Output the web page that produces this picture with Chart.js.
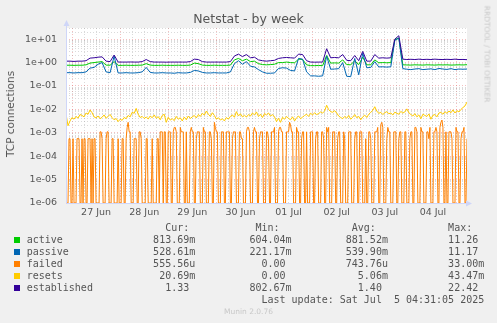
<!DOCTYPE html>
<html>
<head>
<meta charset="utf-8">
<title>Netstat - by week</title>
<script src="https://cdn.jsdelivr.net/npm/chart.js@4.4.1/dist/chart.umd.min.js"></script>
<style>
  html, body { margin: 0; padding: 0; background: #f0f0f0; }
  #wrap { position: relative; width: 497px; height: 323px; overflow: hidden; font-family: "DejaVu Sans", sans-serif; color: #555; }
  canvas { position: absolute; left: 0; top: 0; }
  .title { position: absolute; left: 0; width: 497px; top: 12px; text-align: center; font-size: 12.5px; line-height: 14px; }
  .ytitle { position: absolute; left: 10px; top: 114px; font-size: 10.5px; line-height: 12px; white-space: nowrap; transform: translate(-50%, -50%) rotate(-90deg); }
  .side { position: absolute; left: 487px; top: 54px; font-size: 7.5px; line-height: 9px; color: #c8c8c8; white-space: nowrap; transform: translate(-50%, -50%) rotate(90deg); }
  .legend { position: absolute; left: 26.7px; top: 221.7px; margin: 0; font-family: "DejaVu Sans Mono", monospace; font-size: 10px; line-height: 12px; white-space: pre; color: #555; }
  .sw { position: absolute; left: 14px; width: 6px; height: 6px; }
  .ver { position: absolute; left: 0; width: 497px; top: 307px; text-align: center; font-size: 7.5px; line-height: 10px; color: #c8c8c8; }
</style>
</head>
<body>
<div id="wrap">
  <canvas id="netstat" width="497" height="323"></canvas>
  <div class="title">Netstat - by week</div>
  <div class="ytitle">TCP connections</div>
  <div class="side">RRDTOOL / TOBI OETIKER</div>
  <pre class="legend" id="legend"></pre>
  <div class="ver">Munin 2.0.76</div>
</div>
<script>
// hours are counted from 27 Jun 00:00
const dayLabels = ['27 Jun', '28 Jun', '29 Jun', '30 Jun', '01 Jul', '02 Jul', '03 Jul', '04 Jul'];
const yTickLabels = ['1e-06', '1e-05', '1e-04', '1e-03', '1e-02', '1e-01', '1e+00', '1e+01'];

// 2-hour samples, first one at -3h
const active = [
  0.77, 0.77, 0.76, 0.77, 0.77, 0.8, 0.95, 1.0, 1.05, 1.1,
  0.78, 0.77, 1.1, 0.76, 0.76, 0.77, 0.76, 0.76, 0.77, 0.78,
  0.9, 0.78, 0.76, 0.76, 0.77, 0.76, 0.76, 0.76, 0.77, 0.76,
  0.76, 0.78, 0.95, 0.9, 0.78, 0.76, 0.76, 0.77, 0.76, 0.76,
  0.76, 0.78, 1.3, 1.5, 1.2, 1.4, 1.1, 1.15, 0.9, 0.82,
  0.8, 0.82, 0.85, 1.0, 1.0, 1.05, 1.0, 0.98, 1.4, 1.35,
  0.8, 0.74, 0.74, 0.75, 0.74, 2.0, 0.95, 0.97, 0.95, 1.3,
  0.82, 0.8, 1.2, 0.82, 1.7, 0.8, 0.8, 1.3, 0.98, 1.0,
  0.98, 1.0, 9.5, 11.2, 0.8, 0.79, 0.78, 0.8, 0.79, 0.78,
  0.8, 0.79, 0.78, 0.8, 0.79, 0.8, 0.78, 0.79, 0.8, 0.79, 0.81
];
const passive = [
  0.37, 0.37, 0.36, 0.37, 0.37, 0.4, 0.58, 0.62, 0.85, 1.0,
  0.4, 0.37, 1.9, 0.36, 0.36, 0.37, 0.36, 0.36, 0.37, 0.4,
  0.62, 0.38, 0.36, 0.36, 0.37, 0.36, 0.36, 0.35, 0.37, 0.36,
  0.36, 0.38, 0.46, 0.44, 0.38, 0.36, 0.36, 0.37, 0.36, 0.36,
  0.36, 0.4, 0.9, 1.2, 0.85, 1.1, 0.7, 0.65, 0.5, 0.4,
  0.35, 0.35, 0.36, 0.56, 0.6, 0.58, 0.46, 0.44, 1.5, 1.4,
  0.4, 0.27, 0.27, 0.26, 0.27, 1.9, 0.52, 0.53, 0.55, 1.0,
  0.26, 0.25, 1.5, 0.3, 2.5, 0.6, 0.62, 1.1, 0.65, 0.66,
  0.64, 0.66, 9.0, 11.0, 0.55, 0.52, 0.5, 0.53, 0.55, 0.5,
  0.52, 0.54, 0.5, 0.56, 0.53, 0.51, 0.55, 0.5, 0.53, 0.52, 0.53
];
const established = [
  1.15, 1.15, 1.12, 1.15, 1.15, 1.2, 1.55, 1.6, 1.7, 1.75,
  1.15, 1.1, 2.1, 1.05, 1.05, 1.05, 1.06, 1.05, 1.05, 1.1,
  1.35, 1.1, 1.05, 1.05, 1.05, 1.04, 1.05, 1.05, 1.05, 1.05,
  1.05, 1.1, 1.4, 1.35, 1.1, 1.05, 1.05, 1.05, 1.05, 1.05,
  1.05, 1.1, 1.9, 2.3, 1.8, 2.2, 1.6, 1.7, 1.3, 1.2,
  1.15, 1.2, 1.25, 1.5, 1.6, 1.65, 1.6, 1.55, 2.3, 2.2,
  1.2, 1.05, 1.04, 1.05, 1.05, 3.9, 1.6, 1.65, 1.6, 2.2,
  1.25, 1.2, 2.0, 1.2, 3.0, 1.15, 1.15, 2.2, 1.55, 1.6,
  1.55, 1.6, 10, 14, 1.4, 1.35, 1.38, 1.35, 1.4, 1.35,
  1.38, 1.35, 1.4, 1.36, 1.35, 1.38, 1.35, 1.4, 1.35, 1.36, 1.33
];

// half-hour samples, first one at -3h (0 = no failures, drawn on the floor)
const failed = [
  0, 0, 0, 5.6e-4, 5.6e-4, 0, 0, 5.6e-4, 0, 0, 0, 5.6e-4, 5.6e-4, 5.6e-4, 0, 0, 5.6e-4, 0, 5.6e-4, 5.6e-4,
  0, 0, 5.6e-4, 5.6e-4, 5.6e-4, 0, 5.6e-4, 0, 5.6e-4, 5.6e-4, 0, 0, 0, 0, 1.1e-3, 1.1e-3, 5.6e-4, 0, 0, 0,
  5.6e-4, 1.1e-3, 1.1e-3, 0, 0, 0, 5.6e-4, 5.6e-4, 0, 0, 0, 0, 5.6e-4, 0, 0, 0, 5.6e-4, 5.6e-4, 0, 0,
  5.6e-4, 1.7e-3, 2.8e-3, 1.1e-3, 1.1e-3, 0, 0, 0, 5.6e-4, 5.6e-4, 5.6e-4, 0, 0, 1.1e-3, 1.1e-3, 5.6e-4, 0, 0, 0, 0,
  5.6e-4, 5.6e-4, 0, 0, 0, 0, 5.6e-4, 0, 0, 0, 0, 5.6e-4, 5.6e-4, 0, 1.1e-3, 1.1e-3, 1.1e-3, 0, 1.1e-3, 1.1e-3,
  0, 0, 1.1e-3, 1.1e-3, 1.1e-3, 0, 0, 1.1e-3, 1.7e-3, 1.7e-3, 1.1e-3, 0, 0, 0, 1.7e-3, 1.1e-3, 1.1e-3, 1.1e-3, 0, 0,
  1.1e-3, 0, 0, 0, 1.1e-3, 1.7e-3, 1.1e-3, 1.1e-3, 0, 0, 5.6e-4, 1.1e-3, 1.1e-3, 1.1e-3, 0, 0, 0, 1.7e-3, 1.1e-3, 1.1e-3,
  0, 0, 0, 1.1e-3, 1.1e-3, 5.6e-4, 0, 0, 2.8e-3, 1.7e-3, 1.1e-3, 1.1e-3, 0, 0, 0, 1.1e-3, 1.1e-3, 1.1e-3, 0, 0,
  1.1e-3, 1.1e-3, 1.1e-3, 1.1e-3, 0, 0, 5.6e-4, 1.1e-3, 1.1e-3, 1.1e-3, 0, 0, 0, 1.1e-3, 1.1e-3, 5.6e-4, 5.6e-4, 0, 0, 0,
  1.1e-3, 1.7e-3, 1.7e-3, 1.1e-3, 0, 0, 0, 1.1e-3, 1.7e-3, 1.1e-3, 1.1e-3, 0, 0, 5.6e-4, 1.1e-3, 1.1e-3, 1.1e-3, 0, 0, 0,
  1.1e-3, 1.1e-3, 5.6e-4, 0, 0, 1.1e-3, 1.1e-3, 1.1e-3, 1.7e-3, 0, 0, 0, 1.1e-3, 1.7e-3, 1.7e-3, 1.1e-3, 1.1e-3, 0, 0, 0,
  1.1e-3, 1.1e-3, 1.1e-3, 2.8e-3, 2.2e-3, 1.1e-3, 1.1e-3, 0, 0, 0, 1.7e-3, 1.1e-3, 1.1e-3, 0, 0, 5.6e-4, 1.1e-3, 1.1e-3, 0, 0,
  1.1e-3, 0, 0, 0, 1.1e-3, 1.1e-3, 1.1e-3, 0, 0, 5.6e-4, 1.1e-3, 1.1e-3, 0, 0, 0, 1.1e-3, 1.1e-3, 5.6e-4, 0, 0,
  1.7e-3, 1.1e-3, 1.7e-3, 0, 0, 0, 1.1e-3, 1.1e-3, 1.1e-3, 0, 0, 5.6e-4, 1.1e-3, 1.1e-3, 0, 0, 0, 1.1e-3, 5.6e-4, 0,
  0, 0, 1.1e-3, 1.1e-3, 1.1e-3, 0, 0, 0, 5.6e-4, 1.1e-3, 1.1e-3, 0, 0, 1.1e-3, 1.1e-3, 1.1e-3, 0, 0, 0, 5.6e-4,
  0, 0, 1.1e-3, 1.1e-3, 5.6e-4, 0, 0, 0, 1.1e-3, 1.1e-3, 1.1e-3, 1.7e-3, 0, 0, 2.2e-3, 2.8e-3, 1.7e-3, 0, 0, 0,
  5.6e-4, 1.7e-3, 1.1e-3, 1.1e-3, 0, 0, 0, 1.1e-3, 1.1e-3, 1.1e-3, 0, 0, 5.6e-4, 1.1e-3, 1.1e-3, 0, 0, 0, 1.1e-3, 1.1e-3,
  0, 0, 0, 5.6e-4, 1.1e-3, 1.1e-3, 0, 0, 1.7e-3, 1.7e-3, 1.1e-3, 0, 0, 0, 1.7e-3, 1.1e-3, 1.1e-3, 0, 0, 0,
  1.1e-3, 1.1e-3, 5.6e-4, 1.7e-3, 0, 0, 0, 1.1e-3, 1.1e-3, 1.7e-3, 1.1e-3, 0, 0, 1.7e-3, 2.8e-3, 3.5e-3, 1.7e-3, 0, 0, 1.1e-3,
  0, 0, 1.1e-3, 1.1e-3, 1.1e-3, 5.6e-4, 0, 0, 0, 1.7e-3, 1.1e-3, 1.1e-3, 0, 0, 5.6e-4, 1.1e-3, 1.1e-3, 1.7e-3, 0, 0,
  5.6e-4
];
// hourly samples, first one at -3h
const resets = [
  0.0065, 0.0020, 0.0032, 0.0045, 0.0038, 0.0050, 0.0042, 0.0060, 0.0055, 0.0048,
  0.0070, 0.0062, 0.0095, 0.0072, 0.0048, 0.0043, 0.0052, 0.0040, 0.0046, 0.0058,
  0.0042, 0.0050, 0.0061, 0.0044, 0.0036, 0.0041, 0.0030, 0.0038, 0.0034, 0.0045,
  0.0040, 0.0055, 0.0048, 0.0075, 0.0068, 0.0110, 0.0062, 0.0045, 0.0050, 0.0041,
  0.0047, 0.0039, 0.0052, 0.0044, 0.0058, 0.0042, 0.0049, 0.0036, 0.0055, 0.0062,
  0.0028, 0.0046, 0.0035, 0.0040, 0.0033, 0.0050, 0.0038, 0.0044, 0.0032, 0.0047,
  0.0036, 0.0052, 0.0041, 0.0048, 0.0055, 0.0043, 0.0060, 0.0050, 0.0068, 0.0057,
  0.0085, 0.0062, 0.0050, 0.0072, 0.0055, 0.0038, 0.0044, 0.0035, 0.0040, 0.0032,
  0.0045, 0.0038, 0.0050, 0.0058, 0.0046, 0.0080, 0.0052, 0.0065, 0.0048, 0.0056,
  0.0047, 0.0060, 0.0052, 0.0070, 0.0058, 0.0078, 0.0050, 0.0062, 0.0045, 0.0066,
  0.0058, 0.0070, 0.0052, 0.0060, 0.0048, 0.0030, 0.0042, 0.0028, 0.0046, 0.0038,
  0.0050, 0.0041, 0.0036, 0.0048, 0.0032, 0.0044, 0.0052, 0.0040, 0.0047, 0.0055,
  0.0062, 0.0050, 0.0068, 0.0058, 0.0072, 0.0060, 0.0066, 0.0078, 0.0070, 0.0085,
  0.0150, 0.0098, 0.0080, 0.0075, 0.0088, 0.0070, 0.0052, 0.0045, 0.0040, 0.0050,
  0.0042, 0.0055, 0.0038, 0.0046, 0.0060, 0.0044, 0.0050, 0.0036, 0.0048, 0.0057,
  0.0045, 0.0062, 0.0075, 0.0090, 0.0130, 0.0085, 0.0068, 0.0075, 0.0060, 0.0072,
  0.0080, 0.0065, 0.0070, 0.0058, 0.0076, 0.0068, 0.0062, 0.0082, 0.0070, 0.0078,
  0.0105, 0.0072, 0.0060, 0.0052, 0.0066, 0.0048, 0.0058, 0.0040, 0.0062, 0.0055,
  0.0050, 0.0064, 0.0038, 0.0056, 0.0060, 0.0048, 0.0070, 0.0075, 0.0062, 0.0080,
  0.0068, 0.0085, 0.0072, 0.0095, 0.0070, 0.0088, 0.0078, 0.0100, 0.0120, 0.0140,
  0.0207
];

const seriesNames = ['active', 'passive', 'failed', 'resets', 'established'];
const seriesColors = ['#00cc00', '#0066b3', '#ff8000', '#ffcc00', '#330099'];
const curText = ['813.69m', '528.61m', '555.56u', '20.69m', '1.33 '];
const minText = ['604.04m', '221.17m', '0.00 ', '0.00 ', '802.67m'];
const avgText = ['881.52m', '539.90m', '743.76u', '5.06m', '1.40 '];
const maxText = ['11.26 ', '11.17 ', '33.00m', '43.47m', '22.42 '];
const lastUpdate = 'Last update: Sat Jul  5 04:31:05 2025';

const X_MIN = -3;
const X_MAX = 197;
const Y_MIN = 1e-6;
const Y_MAX = 30;

const hoursFrom = (start, step, n) => Array.from({ length: n }, (_, i) => start + i * step);
const toPoints = (xs, ys) => ys.map((y, i) => ({ x: xs[i], y: y === 0 ? Y_MIN : y }));

const slowHours = hoursFrom(-3, 2, active.length);
const hourly = hoursFrom(-3, 1, resets.length);
const halfHourly = hoursFrom(-3, 0.5, failed.length);

const tickFont = { family: 'DejaVu Sans', size: 9.5 };
const minorGrid = 'rgba(140, 140, 140, 0.32)';
const majorGrid = 'rgba(225, 90, 90, 0.38)';

const plotBackground = {
  id: 'plotBackground',
  beforeDraw(chart) {
    const { ctx, chartArea: a } = chart;
    ctx.save();
    ctx.fillStyle = '#ffffff';
    ctx.fillRect(a.left, a.top, a.right - a.left, a.bottom - a.top);
    ctx.restore();
  }
};

const axisArrows = {
  id: 'axisArrows',
  afterDatasetsDraw(chart) {
    const { ctx, chartArea: a } = chart;
    const x0 = a.left + 0.5;
    const y0 = a.bottom + 0.5;
    ctx.save();
    ctx.strokeStyle = '#cfd6f8';
    ctx.fillStyle = '#cfd6f8';
    ctx.lineWidth = 1;
    ctx.beginPath();
    ctx.moveTo(x0, y0);
    ctx.lineTo(x0, a.top - 4);
    ctx.moveTo(x0, y0);
    ctx.lineTo(a.right + 2, y0);
    ctx.stroke();
    ctx.beginPath();
    ctx.moveTo(x0 - 3, a.top - 2);
    ctx.lineTo(x0 + 3, a.top - 2);
    ctx.lineTo(x0, a.top - 8);
    ctx.closePath();
    ctx.fill();
    ctx.beginPath();
    ctx.moveTo(a.right - 1, y0 - 3);
    ctx.lineTo(a.right - 1, y0 + 3);
    ctx.lineTo(a.right + 5, y0);
    ctx.closePath();
    ctx.fill();
    ctx.restore();
  }
};

const lineSet = (i, xs, ys, order) => ({
  label: seriesNames[i],
  data: toPoints(xs, ys),
  borderColor: seriesColors[i],
  backgroundColor: seriesColors[i],
  borderWidth: 1,
  pointRadius: 0,
  fill: false,
  tension: 0,
  order: order
});

new Chart(document.getElementById('netstat'), {
  type: 'line',
  data: {
    datasets: [
      lineSet(0, slowHours, active, 5),
      lineSet(1, slowHours, passive, 4),
      lineSet(2, halfHourly, failed, 3),
      lineSet(3, hourly, resets, 2),
      lineSet(4, slowHours, established, 1)
    ]
  },
  options: {
    responsive: false,
    animation: false,
    devicePixelRatio: 1,
    layout: { padding: { left: 0, right: 30, top: 28, bottom: 100 } },
    plugins: {
      legend: { display: false },
      tooltip: { enabled: false }
    },
    scales: {
      x: {
        type: 'linear',
        min: X_MIN,
        max: X_MAX,
        afterFit(scale) { scale.height = 20; },
        afterBuildTicks(scale) {
          scale.ticks = hoursFrom(0, 6, 33).map(h => ({ value: h, major: h % 24 === 0 }));
        },
        ticks: {
          autoSkip: false,
          maxRotation: 0,
          padding: 4,
          color: '#555',
          font: tickFont,
          callback: (value) => (value % 24 === 12 ? dayLabels[Math.floor(value / 24)] || '' : '')
        },
        grid: {
          drawTicks: false,
          lineWidth: 1,
          color: (c) => (c.tick && c.tick.major ? majorGrid : minorGrid)
        },
        border: { display: false, dash: [1, 2] }
      },
      y: {
        type: 'logarithmic',
        min: Y_MIN,
        max: Y_MAX,
        afterFit(scale) { scale.width = 66; },
        afterBuildTicks(scale) {
          const ticks = [];
          for (let e = -6; e <= 1; e++) {
            for (let m = 1; m <= 9; m++) {
              const v = m * Math.pow(10, e);
              if (v <= Y_MAX + 1e-9) ticks.push({ value: v, major: m === 1, exp: e });
            }
          }
          scale.ticks = ticks;
        },
        ticks: {
          autoSkip: false,
          padding: 9,
          color: '#555',
          font: tickFont,
          callback: (value, index, ticks) => (ticks[index].major ? yTickLabels[ticks[index].exp + 6] : '')
        },
        grid: {
          drawTicks: false,
          lineWidth: 1,
          color: (c) => (c.tick && c.tick.major ? majorGrid : minorGrid)
        },
        border: { display: false, dash: [1, 2] }
      }
    }
  },
  plugins: [plotBackground, axisArrows]
});

// legend table under the plot
const wrap = document.getElementById('wrap');
const rows = [' '.repeat(23) + 'Cur:' + ' '.repeat(11) + 'Min:' + ' '.repeat(12) + 'Avg:' + ' '.repeat(12) + 'Max:'];
seriesNames.forEach((name, i) => {
  rows.push(name.padEnd(21) + curText[i].padStart(7) + ' '.repeat(9) + minText[i].padStart(7) +
    ' '.repeat(9) + avgText[i].padStart(7) + ' '.repeat(9) + maxText[i].padStart(7));
  const sw = document.createElement('span');
  sw.className = 'sw';
  sw.style.top = (236.7 + 12 * i) + 'px';
  sw.style.background = seriesColors[i];
  wrap.appendChild(sw);
});
rows.push(' '.repeat(39) + lastUpdate);
document.getElementById('legend').textContent = rows.join('\n');
</script>
</body>
</html>
